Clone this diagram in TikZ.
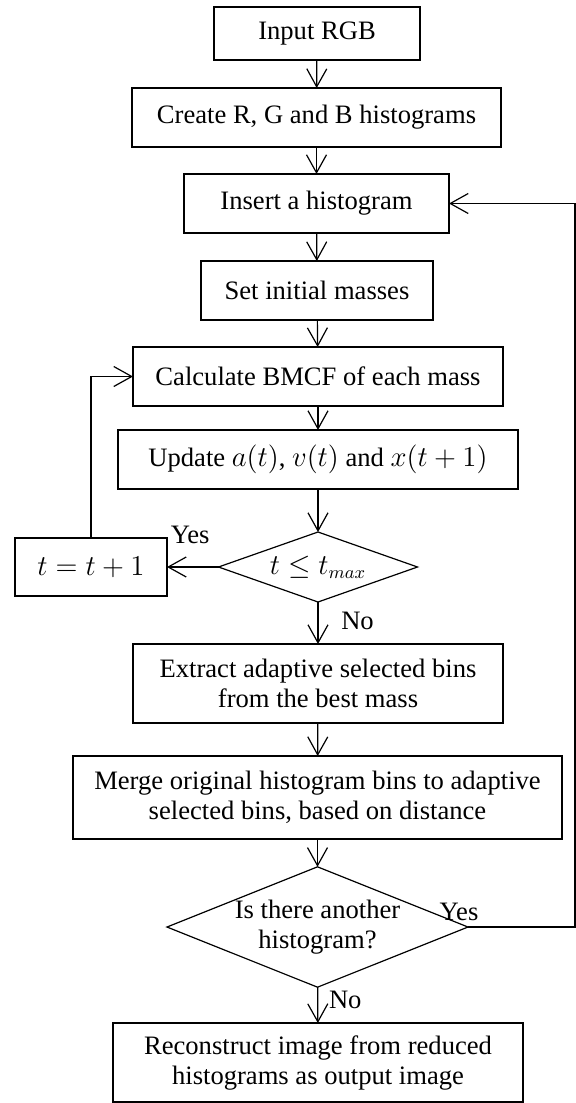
\documentclass[tikz,border=0pt]{standalone}
\usepackage{fontspec}
\setmainfont{Liberation Serif}
\usetikzlibrary{shapes.geometric,arrows.meta}
\begin{document}
\begin{tikzpicture}[x=0.5pt,y=-0.5pt,line width=0.6pt,
        font=\fontsize{13.3}{15}\selectfont,
        box/.style={draw,rectangle,inner sep=0pt,outer sep=0pt,align=center},
        decision/.style={draw,diamond,inner sep=0pt,outer sep=0pt,align=center},
        flow/.style={-{Straight Barb[length=9pt,width=10pt,line width=0.6pt]}}]
        \useasboundingbox (0,0) rectangle (576,1103);
        %% main column
        \node[box,minimum width=103pt,minimum height=26.5pt] (in) at (317,33.5) {Input RGB};
        \node[box,minimum width=184.5pt,minimum height=29.5pt] (hist) at (316.5,117.5) {Create R, G and B histograms};
        \node[box,minimum width=132.5pt,minimum height=29.5pt] (ins) at (316.5,203.5) {Insert a histogram};
        \node[box,minimum width=116pt,minimum height=29.5pt] (init) at (317,290.5) {Set initial masses};
        \node[box,minimum width=185pt,minimum height=29.5pt] (calc) at (318,376.5) {Calculate BMCF of each mass};
        \node[box,minimum width=200pt,minimum height=29.5pt] (upd) at (318,459.5) {Update $a(t)$, $v(t)$ and $x(t+1)$};
        \node[decision,aspect=4.5,minimum width=99.5pt,minimum height=35pt] (cond) at (318,567) {$t\leq t_{max}$};
        \node[box,minimum width=76pt,minimum height=29pt] (inc) at (91,567) {$t=t+1$};
        \node[box,minimum width=185pt,minimum height=39.5pt] (ext) at (318,683.5) {Extract adaptive selected bins\\from the best mass};
        \node[box,minimum width=244.5pt,minimum height=41.5pt] (merge) at (317.5,797.5) {Merge original histogram bins to adaptive\\selected bins, based on distance};
        \node[decision,aspect=2.5,minimum width=150.5pt,minimum height=60pt] (more) at (317.5,927) {Is there another\\histogram?};
        \node[box,minimum width=205pt,minimum height=39.5pt] (out) at (318,1062.5) {Reconstruct image from reduced\\histograms as output image};
        \coordinate (rgt) at (575,927);
        %% arrows
        \draw[flow] (in) -- (hist);
        \draw[flow] (hist) -- (ins);
        \draw[flow] (ins) -- (init);
        \draw[flow] (init) -- (calc);
        \draw[flow] (calc) -- (upd);
        \draw[flow] (upd) -- (cond);
        \draw[flow] (cond) -- (ext) node[pos=0.45,right=8pt] {No};
        \draw[flow] (cond.west) -- (inc.east) node[pos=0.55,above=8pt] {Yes};
        \draw[flow] (inc.north) |- (calc.west);
        \draw[flow] (ext) -- (merge);
        \draw[flow] (merge) -- (more);
        \draw[flow] (more) -- (out) node[pos=0.35,right=2pt] {No};
        \draw[flow] (more.east) -- (rgt) |- (ins.east);
        \node (yes) at (459,912) {Yes};
    \end{tikzpicture}
\end{document}
